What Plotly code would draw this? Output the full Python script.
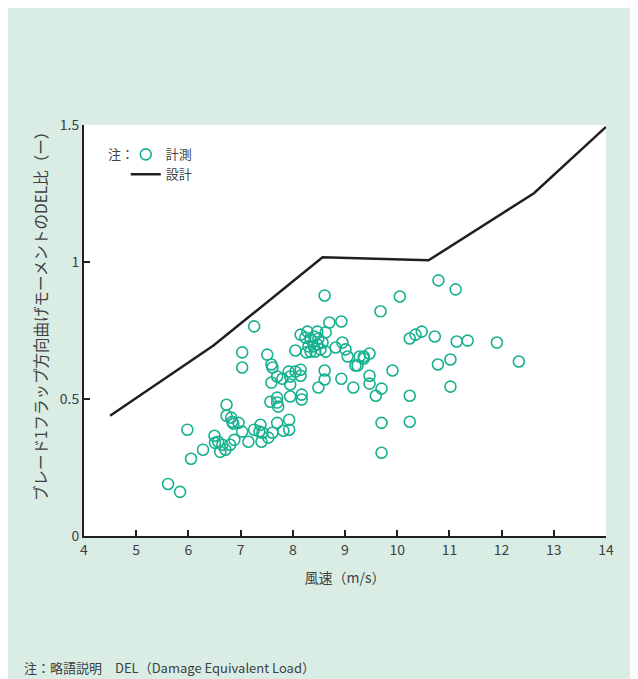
import plotly.graph_objects as go

# Measured data (wind speed m/s, DEL ratio)
meas_x = [5.61, 5.84, 5.98, 6.05, 6.28, 6.50, 6.51, 6.57, 6.65, 6.61, 6.71, 6.80, 6.88,
          6.73, 6.73, 6.82, 6.84, 6.86, 6.96, 7.03, 7.15, 7.26, 7.38, 7.36, 7.42, 7.40,
          7.53, 7.61, 7.70, 7.82, 7.93, 7.93, 7.57, 7.70, 7.70, 7.72, 7.95, 8.17, 8.17,
          7.95, 7.59, 7.70, 7.80, 7.92, 7.95, 8.05, 8.15, 8.15, 7.59, 7.61, 7.51, 7.03,
          7.03, 7.26, 8.05, 8.15, 8.28, 8.47, 8.63, 8.70, 8.93, 8.24, 8.34, 8.41, 8.49,
          8.30, 8.40, 8.47, 8.57, 8.34, 8.43, 8.53, 8.63, 8.26, 8.82, 8.95, 9.01, 9.05,
          9.20, 9.28, 8.61, 8.61, 8.49, 8.93, 9.16, 9.36, 9.36, 9.47, 9.24, 9.47, 9.47,
          9.70, 9.59, 9.91, 10.24, 9.70, 10.24, 9.70, 9.68, 10.05, 8.61, 10.79, 11.12,
          10.24, 10.35, 10.47, 10.72, 11.14, 11.35, 11.91, 12.33, 10.78, 11.02, 11.02]
meas_y = [0.190, 0.161, 0.388, 0.282, 0.315, 0.366, 0.340, 0.344, 0.333, 0.307, 0.315, 0.333, 0.351,
          0.479, 0.439, 0.432, 0.417, 0.410, 0.413, 0.381, 0.344, 0.388, 0.406, 0.381, 0.377, 0.344,
          0.359, 0.377, 0.413, 0.384, 0.424, 0.388, 0.490, 0.505, 0.487, 0.472, 0.509, 0.516, 0.498,
          0.553, 0.560, 0.582, 0.574, 0.600, 0.582, 0.600, 0.607, 0.585, 0.626, 0.615, 0.662, 0.670,
          0.615, 0.765, 0.677, 0.735, 0.746, 0.746, 0.743, 0.779, 0.783, 0.724, 0.717, 0.728, 0.721,
          0.692, 0.692, 0.699, 0.706, 0.673, 0.673, 0.681, 0.673, 0.670, 0.688, 0.706, 0.681, 0.655,
          0.622, 0.655, 0.604, 0.571, 0.542, 0.574, 0.542, 0.655, 0.648, 0.666, 0.622, 0.585, 0.556,
          0.538, 0.512, 0.604, 0.512, 0.413, 0.417, 0.304, 0.820, 0.874, 0.878, 0.933, 0.900,
          0.721, 0.735, 0.746, 0.728, 0.710, 0.713, 0.706, 0.637, 0.626, 0.644, 0.545]

# Design curve
design_x = [4.50, 6.48, 8.57, 10.60, 12.62, 14.0]
design_y = [0.439, 0.695, 1.017, 1.006, 1.251, 1.493]

x_ticks = [4, 5, 6, 7, 8, 9, 10, 11, 12, 13, 14]
y_ticks = [0, 0.5, 1, 1.5]

FONT = "Noto Sans CJK JP, Noto Sans, sans-serif"
TXT = "#404040"
GREEN_BG = "#d9ede4"
TEAL = "#17b190"
DARK = "#231f20"

fig = go.Figure()
fig.add_trace(go.Scatter(
    x=meas_x, y=meas_y, mode="markers", name="計測",
    marker=dict(symbol="circle-open", size=11, color=TEAL, line=dict(width=1.6, color=TEAL)),
))
fig.add_trace(go.Scatter(
    x=design_x, y=design_y, mode="lines", name="設計",
    line=dict(color=DARK, width=2.5),
))

fig.update_layout(
    width=630, height=671,
    margin=dict(l=76, r=32, t=117, b=143),
    paper_bgcolor=GREEN_BG, plot_bgcolor="white",
    font=dict(family=FONT, size=14, color=TXT),
    showlegend=True,
    legend=dict(x=0.08, y=0.965, xanchor="left", yanchor="top",
                bgcolor="rgba(0,0,0,0)", itemwidth=30, tracegroupgap=0,
                font=dict(size=13, color=TXT), traceorder="normal"),
    xaxis=dict(range=[4, 14], tickvals=x_ticks, ticks="inside", ticklen=6, tickwidth=1.5,
               tickcolor=DARK, showline=True, linecolor=DARK, linewidth=2,
               showgrid=False, zeroline=False, mirror=False,
               title=dict(text="風速（m/s）", standoff=15, font=dict(size=14))),
    yaxis=dict(range=[0, 1.5], tickvals=y_ticks, ticks="inside", ticklen=6, tickwidth=1.5,
               tickcolor=DARK, showline=True, linecolor=DARK, linewidth=2,
               showgrid=False, zeroline=False),
    annotations=[
        dict(text="ブレード1フラップ方向曲げモーメントのDEL比（ー）", xref="paper", yref="paper",
             x=-0.0843, y=0.545, xanchor="center", yanchor="middle", textangle=-90,
             showarrow=False, font=dict(size=15.5, color=TXT)),
        dict(text="注：", xref="paper", yref="paper", x=0.042, y=0.93, xanchor="left",
             yanchor="middle", showarrow=False, font=dict(size=13, color=TXT)),
        dict(text="注：略語説明　DEL（Damage Equivalent Load）", xref="paper", yref="paper",
             x=-0.119, y=-0.321, xanchor="left", yanchor="middle", showarrow=False,
             font=dict(size=13, color=TXT)),
    ],
)

fig.write_html("out.html")
